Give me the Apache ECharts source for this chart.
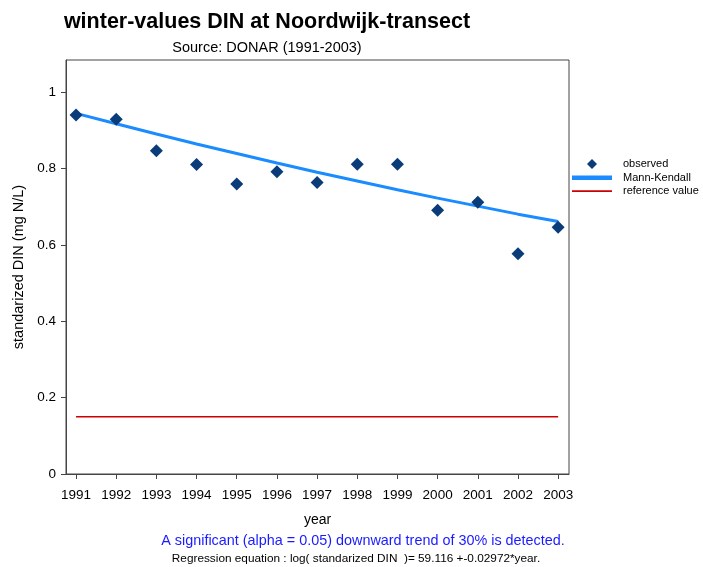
<!DOCTYPE html>
<html>
<head>
<meta charset="utf-8">
<script src="https://cdn.jsdelivr.net/npm/echarts@6/dist/echarts.min.js"></script>
<style>
  html, body { margin: 0; padding: 0; background: #fff; }
  #main { width: 703px; height: 567px; }
</style>
</head>
<body>
<div id="main"></div>
<script>
// data
var years = [1991, 1992, 1993, 1994, 1995, 1996, 1997, 1998, 1999, 2000, 2001, 2002, 2003];
var observed = [0.941, 0.930, 0.847, 0.811, 0.760, 0.792, 0.764, 0.812, 0.812, 0.691, 0.712, 0.577, 0.647];
var mannKendall = [0.945, 0.918, 0.891, 0.865, 0.840, 0.815, 0.791, 0.768, 0.745, 0.723, 0.702, 0.681, 0.662];
var referenceValue = 0.15;
var yTicks = [0, 0.2, 0.4, 0.6, 0.8, 1];

var font = 'Arial, "Liberation Sans", sans-serif';

var chart = echarts.init(document.getElementById('main'));

var option = {
    animation: false,
    backgroundColor: '#fff',
    textStyle: { fontFamily: font },
    grid: {
        left: 66, top: 60, right: 134, bottom: 93,
        show: true, borderColor: '#444', borderWidth: 1
    },
    legend: {
        orient: 'vertical',
        left: 572, top: 158,
        padding: 0,
        itemWidth: 46, itemHeight: 12, itemGap: 1.5,
        selectedMode: false,
        textStyle: { fontSize: 11, color: '#000', fontFamily: font },
        data: [
            { name: 'observed', icon: 'path://M0,0 M46,12 M20,1 L25,6 L20,11 L15,6 Z',
              itemStyle: { color: '#0a3c7a', opacity: 1 } },
            { name: 'Mann-Kendall', icon: 'path://M0,0 M46,12 M0,4 L40,4 L40,8.5 L0,8.5 Z' },
            { name: 'reference value', icon: 'path://M0,0 M46,12 M0,5.2 L40,5.2 L40,7 L0,7 Z' }
        ]
    },
    xAxis: {
        type: 'value',
        min: 1990.75, max: 2003.27,
        name: 'year',
        nameLocation: 'middle',
        nameGap: 39,
        nameTextStyle: { fontSize: 14, color: '#000' },
        splitLine: { show: false },
        axisLine: { show: true, onZero: false, lineStyle: { color: '#444' } },
        axisTick: { show: true, length: 5, lineStyle: { color: '#444' }, customValues: years },
        axisLabel: { color: '#000', fontSize: 13.5, margin: 14, customValues: years,
            formatter: function (v) { return String(v); } }
    },
    yAxis: {
        type: 'value',
        min: 0, max: 1.085,
        name: 'standarized DIN (mg N/L)',
        nameLocation: 'middle',
        nameGap: 40,
        nameTextStyle: { fontSize: 14.5, color: '#000' },
        splitLine: { show: false },
        axisLine: { show: true, lineStyle: { color: '#444' } },
        axisTick: { show: true, length: 5, lineStyle: { color: '#444' }, customValues: yTicks },
        axisLabel: { color: '#000', fontSize: 13.5, margin: 10, customValues: yTicks,
            formatter: function (v) { return String(Math.round(v * 10) / 10); } }
    },
    series: [
        {
            name: 'reference value',
            type: 'line',
            symbol: 'none',
            color: '#cc0000',
            lineStyle: { width: 1.5, color: '#cc0000' },
            data: [[years[0], referenceValue], [years[years.length - 1], referenceValue]],
            z: 2
        },
        {
            name: 'Mann-Kendall',
            type: 'line',
            symbol: 'none',
            color: '#1a8cff',
            lineStyle: { width: 3, color: '#1a8cff' },
            data: years.map(function (y, i) { return [y, mannKendall[i]]; }),
            z: 3
        },
        {
            name: 'observed',
            type: 'scatter',
            symbol: 'diamond',
            symbolSize: 13,
            color: '#0a3c7a',
            itemStyle: { color: '#0a3c7a', opacity: 1 },
            data: years.map(function (y, i) { return [y, observed[i]]; }),
            z: 4
        }
    ],
    graphic: [
        { type: 'text', x: 267, y: 22, style: { text: 'winter-values DIN at Noordwijk-transect',
            font: 'bold 21.5px ' + font, fill: '#000', textAlign: 'center', textVerticalAlign: 'middle' } },
        { type: 'text', x: 267, y: 48, style: { text: 'Source: DONAR (1991-2003)',
            font: '14.5px ' + font, fill: '#000', textAlign: 'center', textVerticalAlign: 'middle' } },
        { type: 'text', x: 363, y: 541, style: { text: 'A significant (alpha = 0.05) downward trend of 30% is detected.',
            font: '14.4px ' + font, fill: '#1a1aff', textAlign: 'center', textVerticalAlign: 'middle' } },
        { type: 'text', x: 356, y: 559, style: { text: 'Regression equation : log( standarized DIN  )= 59.116 +-0.02972*year.',
            font: '11.8px ' + font, fill: '#000', textAlign: 'center', textVerticalAlign: 'middle' } }
    ]
};

chart.setOption(option);
</script>
</body>
</html>
